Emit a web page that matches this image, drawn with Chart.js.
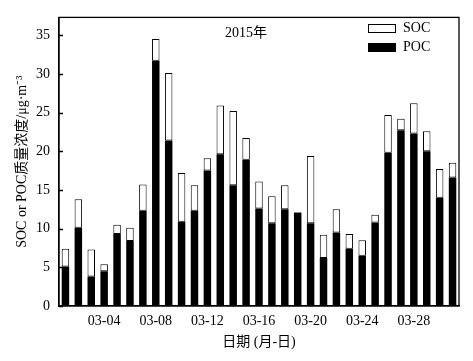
<!DOCTYPE html>
<html>
<head>
<meta charset="utf-8">
<script src="https://cdn.jsdelivr.net/npm/chart.js@4/dist/chart.umd.min.js"></script>
<style>
  html, body { margin: 0; padding: 0; background: #fff; }
  #wrap { width: 473px; height: 361px; }
</style>
</head>
<body>
<div id="wrap"><canvas id="socChart" width="473" height="361"></canvas></div>
<script>
// dates 03-01 .. 03-31
const days = ['03-01','03-02','03-03','03-04','03-05','03-06','03-07','03-08','03-09','03-10',
    '03-11','03-12','03-13','03-14','03-15','03-16','03-17','03-18','03-19','03-20',
    '03-21','03-22','03-23','03-24','03-25','03-26','03-27','03-28','03-29','03-30','03-31'];
const shownTicks = ['03-04','03-08','03-12','03-16','03-20','03-24','03-28'];

// POC concentration (black part)
const poc = [5.1, 10.1, 3.8, 4.5, 9.3, 8.4, 12.3, 31.7, 21.4, 10.9,
    12.3, 17.5, 19.6, 15.6, 18.9, 12.6, 10.7, 12.5, 12.1, 10.7,
    6.2, 9.5, 7.4, 6.5, 10.8, 19.8, 22.7, 22.3, 20.0, 14.0, 16.6];
// total SOC + POC (bar top)
const total = [7.4, 13.8, 7.3, 5.4, 10.5, 10.1, 15.7, 34.5, 30.1, 17.2,
    15.6, 19.1, 25.9, 25.2, 21.7, 16.1, 14.2, 15.6, 12.1, 19.4,
    9.2, 12.5, 9.3, 8.5, 11.8, 24.7, 24.2, 26.2, 22.6, 17.7, 18.5];
const soc = total.map((t, i) => +(t - poc[i]).toFixed(2));

const yTicks = [0, 5, 10, 15, 20, 25, 30, 35];

const serif = '"Liberation Serif", "Noto Sans CJK SC", serif';

// frame, inward ticks, year label and legend
const decor = {
    id: 'decor',
    afterDraw(chart) {
        const ctx = chart.ctx;
        const a = chart.chartArea;
        const y = chart.scales.y;
        ctx.save();
        ctx.strokeStyle = '#000';
        ctx.lineWidth = 1.3;
        ctx.strokeRect(a.left, a.top, a.right - a.left, a.bottom - a.top);
        ctx.beginPath();
        yTicks.forEach(v => {
            const py = Math.round(y.getPixelForValue(v)) + 0.5;
            ctx.moveTo(a.left, py);
            ctx.lineTo(a.left + 4, py);
        });
        ctx.stroke();

        ctx.fillStyle = '#000';
        ctx.font = '14px ' + serif;
        ctx.textBaseline = 'middle';
        ctx.textAlign = 'left';
        ctx.fillText('2015年', 225, 33);

        // legend
        const items = chart.data.datasets.slice().reverse();
        items.forEach((ds, i) => {
            const top = 24 + i * 19;
            ctx.fillStyle = ds.backgroundColor;
            ctx.fillRect(368.5, top + 0.5, 27, 8);
            ctx.lineWidth = 1;
            ctx.strokeRect(368.5, top + 0.5, 27, 8);
            ctx.fillStyle = '#000';
            ctx.fillText(ds.label, 403, top + 4.5);
        });
        ctx.restore();
    }
};

new Chart(document.getElementById('socChart'), {
    type: 'bar',
    data: {
        labels: days,
        datasets: [{
            label: 'POC',
            data: poc,
            backgroundColor: '#000000',
            borderColor: '#000000',
            borderWidth: 0,
            barPercentage: 0.58,
            categoryPercentage: 1
        }, {
            label: 'SOC',
            data: soc,
            backgroundColor: '#ffffff',
            borderColor: '#000000',
            borderWidth: 1,
            borderSkipped: false,
            barPercentage: 0.58,
            categoryPercentage: 1
        }]
    },
    options: {
        responsive: false,
        animation: false,
        layout: { padding: { left: 0, right: 14, top: 11, bottom: 0 } },
        plugins: {
            legend: { display: false },
            tooltip: { enabled: false }
        },
        scales: {
            x: {
                stacked: true,
                offset: true,
                grid: { display: false, drawTicks: false },
                border: { display: true, color: '#000', width: 1.3 },
                ticks: {
                    autoSkip: false,
                    maxRotation: 0,
                    padding: 7,
                    color: '#000',
                    font: { family: serif, size: 14 },
                    callback: function (v) {
                        const l = this.getLabelForValue(v);
                        return shownTicks.includes(l) ? l : '';
                    }
                },
                title: {
                    display: true,
                    text: '日期 (月-日)',
                    color: '#000',
                    font: { family: serif, size: 14 },
                    padding: { top: 0, bottom: 10 }
                },
                afterFit: s => { s.height = 55; }
            },
            y: {
                stacked: true,
                min: 0,
                max: 37.3,
                grid: { display: false, drawTicks: false },
                border: { display: true, color: '#000', width: 1.3 },
                ticks: {
                    padding: 9,
                    color: '#000',
                    font: { family: serif, size: 14 },
                    stepSize: 5
                },
                afterBuildTicks: s => {
                    s.ticks = yTicks.map(v => ({ value: v }));
                },
                title: {
                    display: true,
                    text: 'SOC or POC质量浓度/μg·m⁻³',
                    color: '#000',
                    font: { family: serif, size: 14 },
                    padding: { top: 14, bottom: 0 }
                },
                afterFit: s => { s.width = 59; }
            }
        }
    },
    plugins: [decor]
});
</script>
</body>
</html>
